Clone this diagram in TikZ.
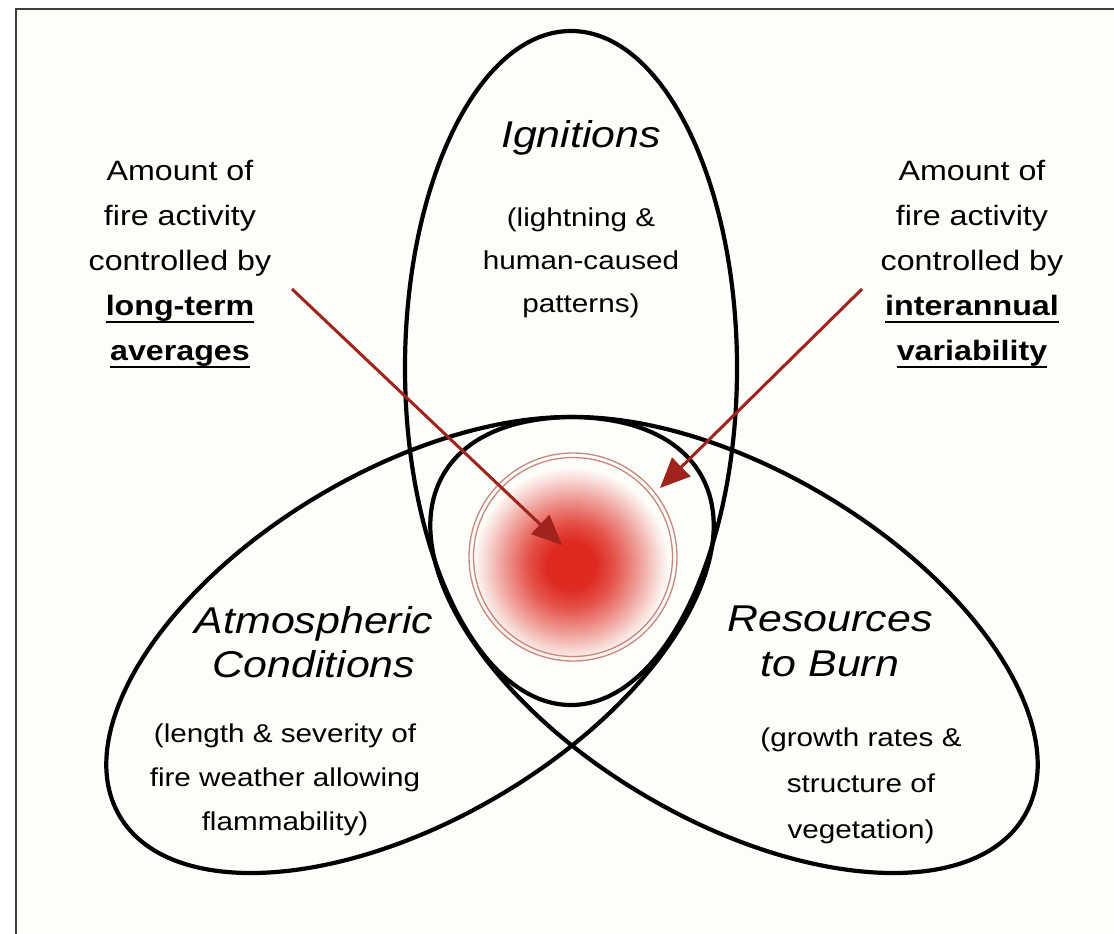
\documentclass[tikz,border=0pt]{standalone}
\usepackage{fontspec}
\setmainfont{Liberation Sans}[FakeStretch=1.15]
\usetikzlibrary{arrows.meta}
\definecolor{bg}{RGB}{253,253,250}
\definecolor{framec}{RGB}{60,60,60}
\definecolor{arrowred}{RGB}{160,35,30}
\definecolor{ringc}{RGB}{200,135,125}
\definecolor{firered}{RGB}{222,42,32}
\pgfdeclareradialshading{fireblob}{\pgfpoint{0bp}{0bp}}{color(0bp)=(firered); color(6bp)=(firered); color(11bp)=(firered!80!bg); color(17bp)=(firered!45!bg); color(22bp)=(firered!14!bg); color(24.5bp)=(bg); color(50bp)=(bg)}
\newcommand\ulword[1]{\setbox0\hbox{#1}\rlap{\rule[-8pt]{\wd0}{2.4pt}}\box0}
\tikzset{
  ellipseline/.style={line width=4.2pt, draw=black},
  ringline/.style={line width=1.3pt, draw=ringc},
  redarrow/.style={line width=3pt, draw=arrowred, -{Triangle[length=30pt,width=26pt,fill=arrowred]}},
  sidetext/.style={font=\fontsize{28}{45}\selectfont, align=center, inner sep=0pt},
  subtext/.style={font=\fontsize{25.8}{44}\selectfont, align=center, inner sep=0pt},
  titletext/.style={font=\fontsize{37.3}{45}\selectfont\itshape, align=center, inner sep=0pt},
}
\begin{document}
\begin{tikzpicture}[x=1pt,y=-1pt]
\useasboundingbox (0,0) rectangle (1114,934);
\fill[white] (0,0) rectangle (1114,934);
\fill[bg] (16,9) rectangle (1114,934);
\draw[framec, line width=2pt] (16,934) -- (16,9) -- (1114,9);
% fire core
\shade[shading=fireblob] (571,565) circle (100);
\draw[ringline] (573,557) circle (104);
\draw[ringline] (573,557) circle (99.5);
% ellipses
\draw[ellipseline] (571,368) ellipse [x radius=166, y radius=337];
\draw[ellipseline, rotate around={30.5:(410,645)}] (410,645) ellipse [x radius=337, y radius=175];
\draw[ellipseline, rotate around={-30.5:(734,645)}] (734,645) ellipse [x radius=337, y radius=175];
% arrows
\coordinate (la1) at (292,289);
\coordinate (la2) at (562,545);
\coordinate (ra1) at (862,289);
\coordinate (ra2) at (660,488);
\draw[redarrow] (la1) -- (la2);
\draw[redarrow] (ra1) -- (ra2);
% texts
\node[sidetext] (lefttxt) at (180,264) {Amount of\\fire activity\\controlled by\\\textbf{\ulword{long-term}}\\\textbf{\ulword{averages}}};
\node[sidetext] (righttxt) at (972,264) {Amount of\\fire activity\\controlled by\\\textbf{\ulword{interannual}}\\\textbf{\ulword{variability}}};
\node[titletext] (ign) at (581,138) {Ignitions};
\node[subtext, font=\fontsize{25.8}{43}\selectfont] (ignsub) at (581,263) {(lightning \&\\human-caused\\patterns)};
\node[titletext, font=\fontsize{37.3}{44}\selectfont\itshape] (atm) at (314,642) {Atmospheric\\Conditions};
\node[subtext] (atmsub) at (285,780) {(length \& severity of\\fire weather allowing\\flammability)};
\node[titletext] (res) at (830,641) {Resources\\to Burn};
\node[subtext, font=\fontsize{25.8}{46}\selectfont] (ressub) at (861,786) {(growth rates \&\\structure of\\vegetation)};
\end{tikzpicture}
\end{document}
